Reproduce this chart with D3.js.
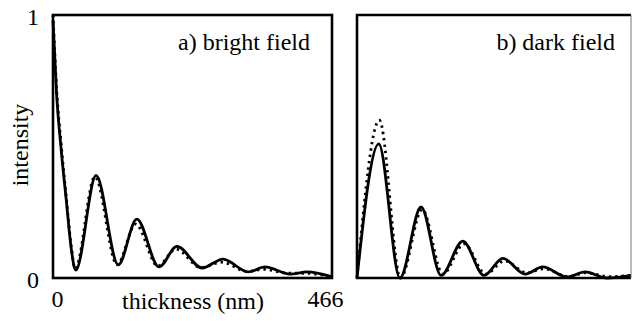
<!DOCTYPE html>
<html>
<head>
<meta charset="utf-8">
<script src="https://cdn.jsdelivr.net/npm/d3@7"></script>
<style>
  body { margin: 0; background: #fff; }
  svg text { font-family: "Liberation Serif", "DejaVu Serif", "Times New Roman", serif; fill: #000; }
</style>
</head>
<body>
<div id="plot"></div>
<script>
// thickness in nm, intensity normalised to 1
var brightThick = [0, 6, 14, 22, 30, 38, 72, 109, 140, 177, 207, 249, 284, 326, 354, 396, 424, 466];
var brightSolid = [0.98, 0.70, 0.48, 0.30, 0.12, 0.03, 0.39, 0.05, 0.224, 0.042, 0.12, 0.038, 0.072, 0.023, 0.042, 0.015, 0.023, 0.004];
var brightDotThick = [0, 6, 14, 22, 30, 37, 70, 107, 138, 175, 205, 247, 282, 324, 352, 394, 422, 466];
var brightDotted = [1.0, 0.72, 0.50, 0.31, 0.13, 0.035, 0.385, 0.05, 0.205, 0.045, 0.11, 0.04, 0.06, 0.025, 0.033, 0.018, 0.018, 0.004];

var darkThick = [0, 37, 73, 109, 143, 180, 216, 248, 286, 316, 357, 388, 425, 466];
var darkSolid = [0, 0.51, 0.0, 0.27, 0.01, 0.14, 0.01, 0.075, 0.015, 0.042, 0.004, 0.023, 0.0, 0.01];
var darkDotThick = [0, 38, 74, 111, 146, 182, 219, 251, 289, 318, 360, 390, 428, 466];
var darkDotted = [0, 0.60, 0.0, 0.26, 0.015, 0.13, 0.015, 0.065, 0.02, 0.035, 0.005, 0.02, 0.005, 0.01];

var yTicks = [0, 1];
var xTicks = [0, 466];
var panelTitles = ["a) bright field", "b) dark field"];

var serif = '"Liberation Serif", "DejaVu Serif", serif';

var svgWidth = 633;
var svgHeight = 321;

var svg = d3.select("#plot")
  .append("svg")
  .attr("width", svgWidth)
  .attr("height", svgHeight);

// two panels, same y scale
var yScale = d3.scaleLinear().domain([0, 1]).range([278, 15]);
var xLeft = d3.scaleLinear().domain([0, 466]).range([53, 332]);
var xRight = d3.scaleLinear().domain([0, 466]).range([357, 631]);

function toPoints(xs, ys) {
  return xs.map(function(x, i) { return { t: x, v: ys[i] }; });
}

function drawCurves(xScale, solidPts, dotPts) {
  var line = d3.line()
    .x(d => xScale(d.t))
    .y(d => yScale(d.v))
    .curve(d3.curveMonotoneX);

  svg.append("path")
    .attr("d", line(dotPts))
    .attr("fill", "none")
    .attr("stroke", "#000")
    .attr("stroke-width", 2.8)
    .attr("stroke-dasharray", "2.4,4");

  svg.append("path")
    .attr("d", line(solidPts))
    .attr("fill", "none")
    .attr("stroke", "#000")
    .attr("stroke-width", 2.8);
}

drawCurves(xLeft, toPoints(brightThick, brightSolid), toPoints(brightDotThick, brightDotted));
drawCurves(xRight, toPoints(darkThick, darkSolid), toPoints(darkDotThick, darkDotted));

// frames
svg.append("rect")
  .attr("x", xLeft(0)).attr("y", yScale(1))
  .attr("width", xLeft(466) - xLeft(0))
  .attr("height", yScale(0) - yScale(1))
  .attr("fill", "none")
  .attr("stroke", "#000")
  .attr("stroke-width", 2.6);

var r0 = xRight(0), r1 = xRight(466);
svg.append("path")
  .attr("d", `M${r1},${yScale(1)}H${r0}V${yScale(0)}H${r1}`)
  .attr("fill", "none")
  .attr("stroke", "#000")
  .attr("stroke-width", 2.6);
svg.append("line")
  .attr("x1", r1).attr("x2", r1)
  .attr("y1", yScale(1)).attr("y2", yScale(0))
  .attr("stroke", "#777")
  .attr("stroke-width", 1);

// y axis labels
var leftAxis = d3.axisLeft(yScale).tickValues(yTicks).tickFormat(d3.format("d")).tickSize(0).tickPadding(14);
var yAxisG = svg.append("g")
  .attr("transform", `translate(${xLeft(0)},2)`)
  .call(leftAxis)
  .attr("font-family", serif)
  .attr("font-size", 24);
yAxisG.select(".domain").remove();

// x axis labels
var bottomAxis = d3.axisBottom(xLeft).tickValues(xTicks).tickFormat(d3.format("d")).tickSize(0).tickPadding(12);
var xAxisG = svg.append("g")
  .attr("transform", `translate(0,${yScale(0)})`)
  .call(bottomAxis)
  .attr("font-family", serif)
  .attr("font-size", 24);
xAxisG.select(".domain").remove();
xAxisG.selectAll("text")
  .attr("dx", d => d === 0 ? 4 : -7);

// titles
svg.append("text")
  .attr("x", 310).attr("y", 50)
  .attr("text-anchor", "end")
  .attr("font-family", serif)
  .attr("font-size", 24)
  .text(panelTitles[0]);

svg.append("text")
  .attr("x", 615).attr("y", 50)
  .attr("text-anchor", "end")
  .attr("font-family", serif)
  .attr("font-size", 24)
  .text(panelTitles[1]);

// axis titles
svg.append("text")
  .attr("transform", "translate(28,145) rotate(-90)")
  .attr("text-anchor", "middle")
  .attr("font-family", serif)
  .attr("font-size", 24)
  .text("intensity");

svg.append("text")
  .attr("x", 122).attr("y", 309)
  .attr("font-family", serif)
  .attr("font-size", 24)
  .text("thickness (nm)");
</script>
</body>
</html>
